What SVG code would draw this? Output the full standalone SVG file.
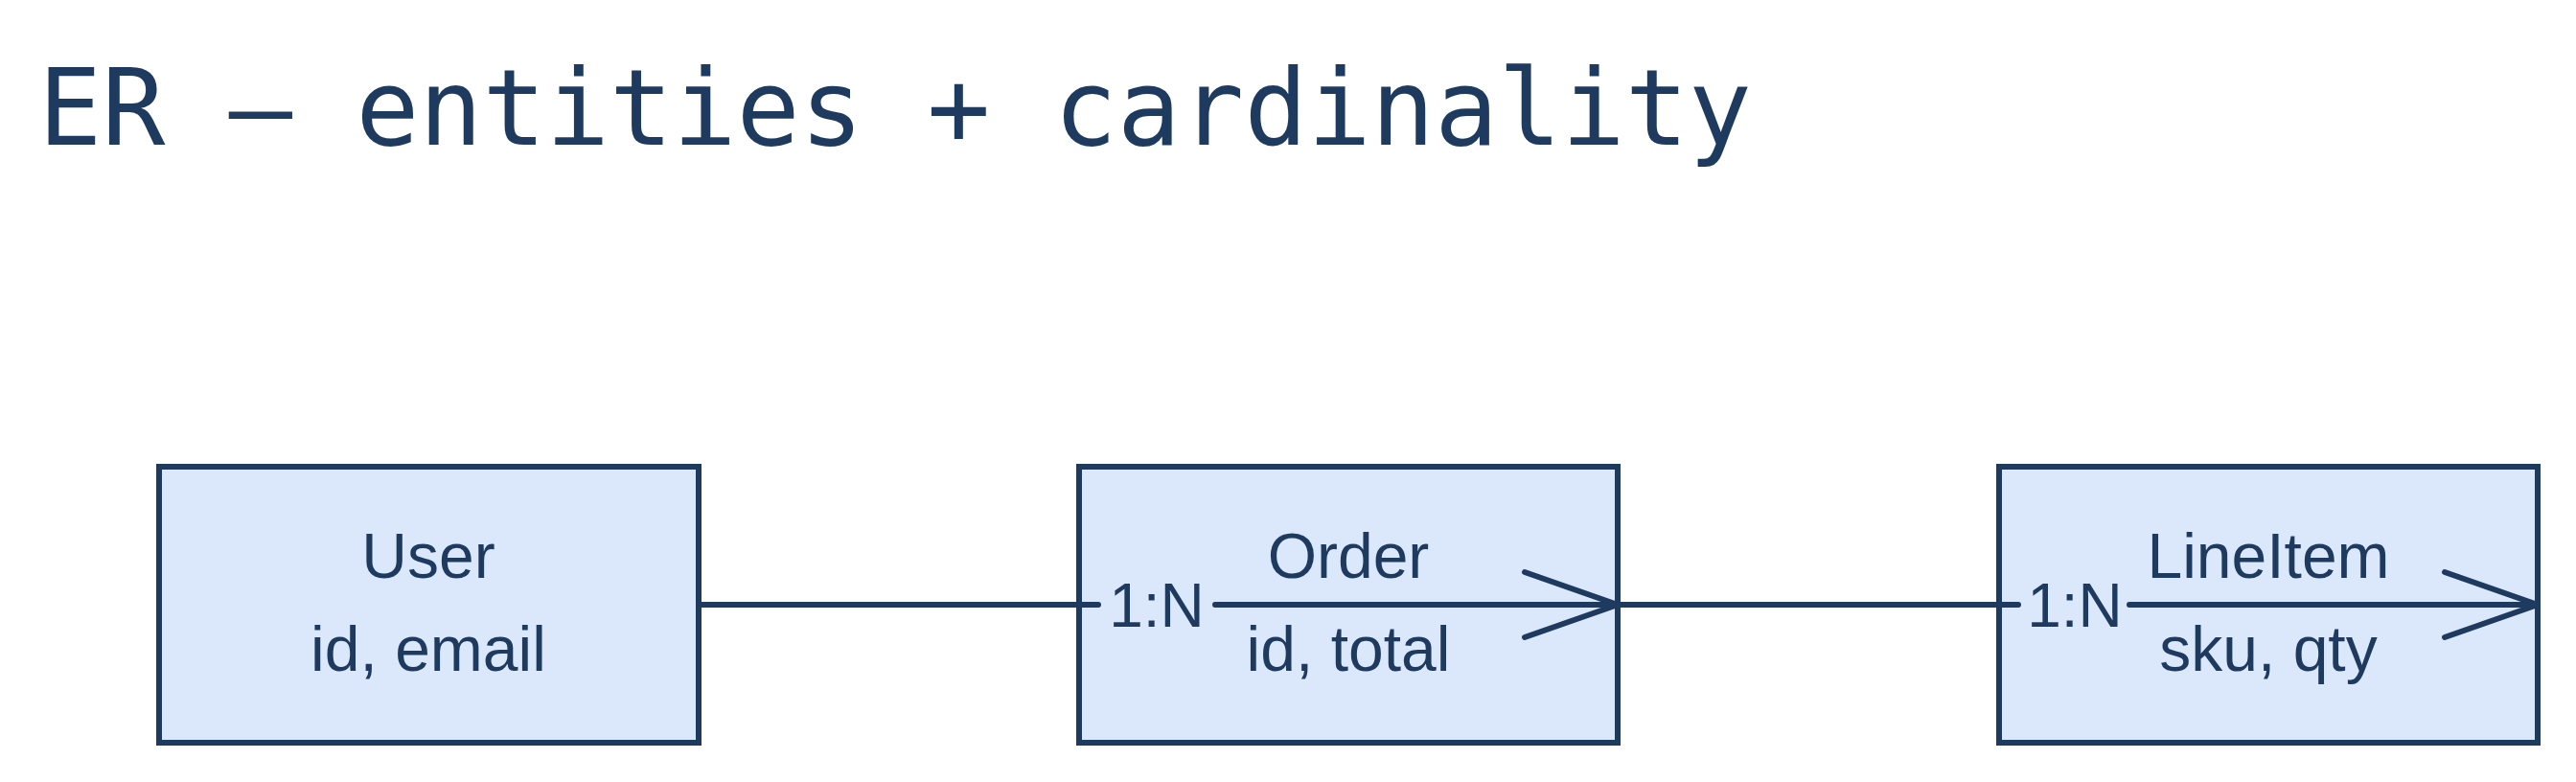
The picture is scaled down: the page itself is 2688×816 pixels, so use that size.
<svg xmlns="http://www.w3.org/2000/svg" width="2688" height="816" viewBox="0 0 2688 816">
<style>
.box{fill:#dbe8fc;stroke:#1e3a5f;stroke-width:6}
.t{font-family:"Liberation Sans",sans-serif;font-size:66px;fill:#1e3a5f;text-anchor:middle}
.e{stroke:#1e3a5f;stroke-width:6;fill:none;stroke-linecap:round;stroke-linejoin:round}
.lbl{font-family:"Liberation Sans",sans-serif;font-size:64px;fill:#1e3a5f;text-anchor:middle}
</style>
<rect width="2688" height="816" fill="#fff"/>
<text x="40" y="151" font-family="DejaVu Sans Mono,monospace" font-size="110" fill="#1e3a5f">ER — entities + cardinality</text>
<g id="user"><rect class="box" x="166" y="487" width="563" height="288"/><text class="t" x="447" y="603">User</text><text class="t" x="447" y="700">id, email</text></g>
<g id="order"><rect class="box" x="1126" y="487" width="562" height="288"/><text class="t" x="1407" y="603">Order</text><text class="t" x="1407" y="700">id, total</text></g>
<g id="lineitem"><rect class="box" x="2086" y="487" width="562" height="288"/><text class="t" x="2367" y="603">LineItem</text><text class="t" x="2367" y="700">sku, qty</text></g>
<g id="connectors">
<path class="e" d="M729 631 H1146"/>
<path class="e" d="M1268 631 H1688 M1591 597 L1688 631 L1591 665"/>
<path class="e" d="M1688 631 H2106"/>
<path class="e" d="M2222 631 H2648 M2551 597 L2648 631 L2551 665"/>
<text class="lbl" x="1207" y="654">1:N</text>
<text class="lbl" x="2165" y="654">1:N</text>
</g>
</svg>
